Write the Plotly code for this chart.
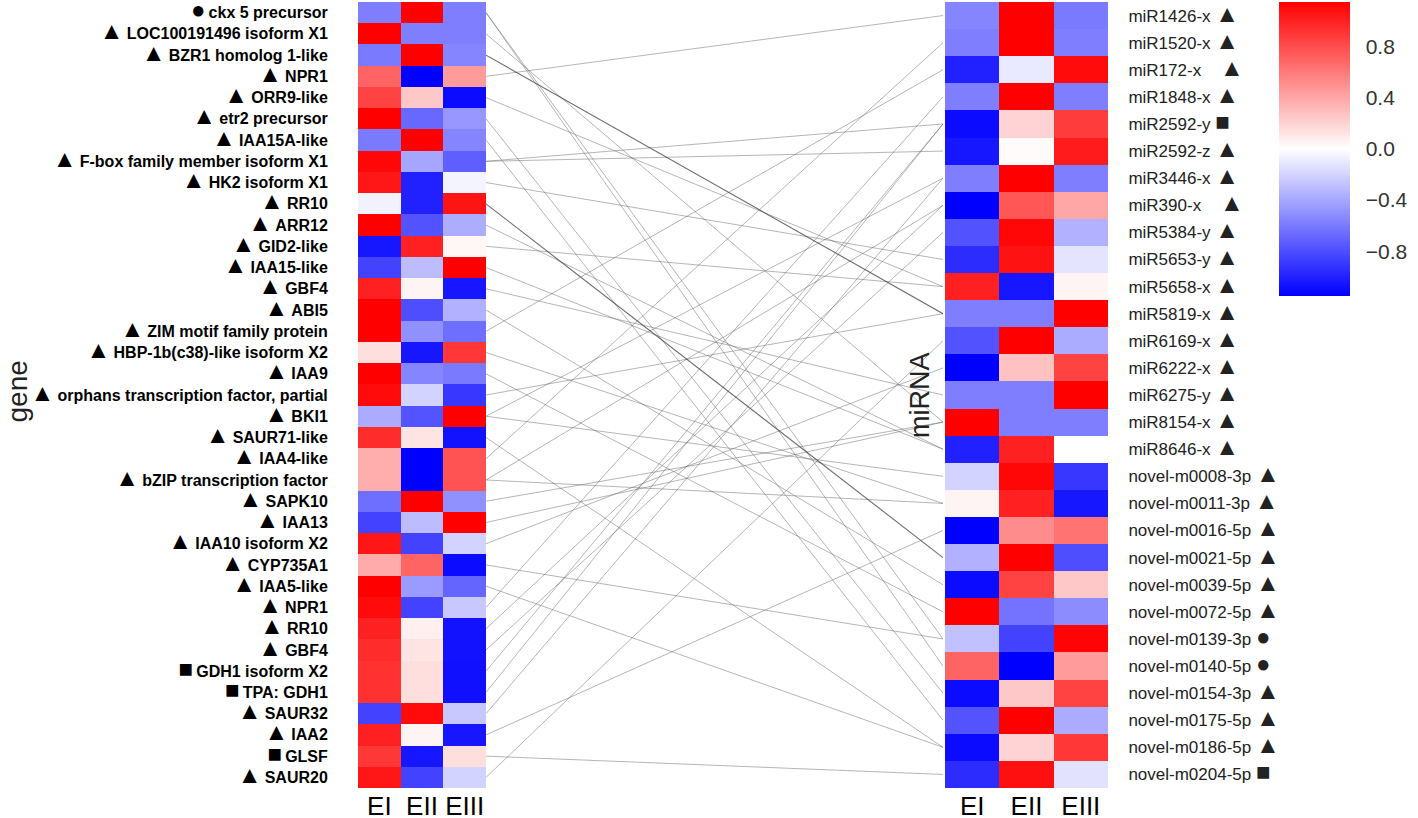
import plotly.graph_objects as go

# expression (row-scaled) for the gene heatmap
genes = ['ckx 5 precursor', 'LOC100191496 isoform X1', 'BZR1 homolog 1-like', 'NPR1', 'ORR9-like',
         'etr2 precursor', 'IAA15A-like', 'F-box family member isoform X1', 'HK2 isoform X1', 'RR10',
         'ARR12', 'GID2-like', 'IAA15-like', 'GBF4', 'ABI5', 'ZIM motif family protein',
         'HBP-1b(c38)-like isoform X2', 'IAA9', 'orphans transcription factor, partial', 'BKI1',
         'SAUR71-like', 'IAA4-like', 'bZIP transcription factor', 'SAPK10', 'IAA13', 'IAA10 isoform X2',
         'CYP735A1', 'IAA5-like', 'NPR1', 'RR10', 'GBF4', 'GDH1 isoform X2', 'TPA: GDH1', 'SAUR32',
         'IAA2', 'GLSF', 'SAUR20']
gene_marks = ['circle'] + ['triangle'] * 30 + ['square', 'square', 'triangle', 'triangle', 'square', 'triangle']
gene_EI = [-0.58, 1.15, -0.6, 0.7, 0.85, 1.15, -0.6, 1.12, 1.05, -0.06, 1.15, -1.05, -0.85, 1.0, 1.15, 1.15,
           0.15, 1.15, 1.1, -0.38, 0.95, 0.37, 0.37, -0.65, -0.85, 1.05, 0.38, 1.15, 1.1, 1.0, 0.95, 0.93,
           0.93, -0.85, 1.0, 0.9, 1.05]
gene_EII = [1.15, -0.58, 1.15, -1.15, 0.25, -0.68, 1.15, -0.4, -1.0, -1.0, -0.78, 1.0, -0.3, 0.05, -0.8, -0.5,
            -1.05, -0.55, -0.2, -0.77, 0.12, -1.15, -1.15, 1.15, -0.3, -0.85, 0.7, -0.45, -0.85, 0.07, 0.12,
            0.15, 0.15, 1.1, 0.05, -1.05, -0.85]
gene_EIII = [-0.58, -0.58, -0.55, 0.45, -1.1, -0.47, -0.55, -0.72, -0.05, 1.06, -0.37, 0.04, 1.15, -1.05, -0.35,
             -0.65, 0.9, -0.6, -0.9, 1.15, -1.07, 0.78, 0.78, -0.5, 1.15, -0.2, -1.1, -0.7, -0.25, -1.07,
             -1.07, -1.08, -1.08, -0.25, -1.05, 0.15, -0.2]

mirnas = ['miR1426-x', 'miR1520-x', 'miR172-x', 'miR1848-x', 'miR2592-y', 'miR2592-z', 'miR3446-x',
          'miR390-x', 'miR5384-y', 'miR5653-y', 'miR5658-x', 'miR5819-x', 'miR6169-x', 'miR6222-x',
          'miR6275-y', 'miR8154-x', 'miR8646-x', 'novel-m0008-3p', 'novel-m0011-3p', 'novel-m0016-5p',
          'novel-m0021-5p', 'novel-m0039-5p', 'novel-m0072-5p', 'novel-m0139-3p', 'novel-m0140-5p',
          'novel-m0154-3p', 'novel-m0175-5p', 'novel-m0186-5p', 'novel-m0204-5p']
mirna_marks = ['triangle'] * 4 + ['square'] + ['triangle'] * 18 + ['circle', 'circle'] + ['triangle'] * 3 + ['square']
mirna_EI = [-0.55, -0.58, -1.0, -0.58, -1.1, -1.05, -0.58, -1.15, -0.78, -0.95, 1.0, -0.58, -0.78, -1.15,
            -0.58, 1.15, -1.0, -0.2, 0.05, -1.15, -0.35, -1.1, 1.15, -0.28, 0.7, -1.1, -0.77, -1.1, -0.95]
mirna_EII = [1.15, 1.15, -0.1, 1.15, 0.2, 0.02, 1.15, 0.76, 1.12, 1.07, -1.05, -0.58, 1.15, 0.28, -0.58,
             -0.58, 1.0, 1.12, 1.0, 0.52, 1.15, 0.85, -0.63, -0.85, -1.15, 0.25, 1.15, 0.2, 1.08]
mirna_EIII = [-0.6, -0.58, 1.1, -0.58, 0.88, 1.03, -0.58, 0.4, -0.35, -0.12, 0.05, 1.15, -0.38, 0.85, 1.15,
              -0.58, 0.0, -0.9, -1.05, 0.63, -0.8, 0.25, -0.52, 1.13, 0.45, 0.85, -0.38, 0.9, -0.13]

# gene row -> miRNA row
link_gene = [0, 0, 1, 2, 3, 4, 5, 6, 7, 7, 8, 9, 10, 11, 12, 13, 14, 15, 16, 17, 18, 19, 19, 20, 21,
             22, 22, 23, 24, 25, 26, 27, 28, 29, 30, 31, 32, 33, 34, 35, 36]
link_mirna = [24, 23, 15, 11, 0, 10, 25, 26, 4, 5, 9, 20, 16, 10, 16, 14, 21, 2, 18, 22, 11, 17, 6, 27, 1,
              18, 7, 15, 15, 13, 23, 27, 3, 7, 8, 4, 4, 6, 19, 28, 12]
strong_links = [(2, 11), (9, 20)]

samples = ['EI', 'EII', 'EIII']
glyph = {'triangle': '▲', 'circle': '●', 'square': '■'}

W, H = 1418, 818


def px(x):
    return x / W


def py(y):
    return 1 - y / H


top, bottom = py(2), py(788)
left_dom = [px(358), px(486)]
right_dom = [px(945), px(1108)]
mid_dom = [px(486), px(943)]

gene_z = [list(r) for r in zip(gene_EI, gene_EII, gene_EIII)]
mirna_z = [list(r) for r in zip(mirna_EI, mirna_EII, mirna_EIII)]

fig = go.Figure()
fig.add_trace(go.Heatmap(z=gene_z, x=samples, y=list(range(len(genes))), coloraxis='coloraxis',
                         xaxis='x', yaxis='y', hoverinfo='skip'))
fig.add_trace(go.Heatmap(z=mirna_z, x=samples, y=list(range(len(mirnas))), coloraxis='coloraxis',
                         xaxis='x2', yaxis='y2', hoverinfo='skip'))

ng, nm = len(genes), len(mirnas)
for dark in (False, True):
    xs, ys = [], []
    for g, m in zip(link_gene, link_mirna):
        if ((g, m) in strong_links) != dark:
            continue
        xs += [0, 1, None]
        ys += [1 - (g + 0.5) / ng, 1 - (m + 0.5) / nm, None]
    fig.add_trace(go.Scatter(x=xs, y=ys, mode='lines', xaxis='x3', yaxis='y3', hoverinfo='skip',
                             line=dict(color='rgba(60,60,60,0.75)' if dark else 'rgba(90,90,90,0.45)',
                                       width=1.1 if dark else 1), showlegend=False))

gene_text = ['<span style="font-size:24px">%s</span>\u2009<b>%s</b>' % (glyph[k], n)
             for n, k in zip(genes, gene_marks)]
pad = {'miR172-x': '\u00a0\u00a0\u00a0', 'miR390-x': '\u00a0\u00a0\u00a0'}
mirna_text = ['%s %s<span style="font-size:24px">%s</span>' % (n, pad.get(n, ''), glyph[k])
              for n, k in zip(mirnas, mirna_marks)]

font = 'Liberation Sans, Arial, DejaVu Sans'
fig.update_layout(
    width=W, height=H, margin=dict(l=0, r=0, t=0, b=0, autoexpand=False),
    paper_bgcolor='white', plot_bgcolor='white', showlegend=False,
    font=dict(family=font, color='black'),
    coloraxis=dict(
        cmin=-1.15, cmax=1.15,
        colorscale=[[0, '#0000FF'], [0.5, '#FFFFFF'], [1, '#FF0000']],
        colorbar=dict(x=px(1279), xanchor='left', y=top, yanchor='top', thickness=71,
                      len=294, lenmode='pixels', xpad=0, ypad=0, outlinewidth=0,
                      tickvals=[-0.8, -0.4, 0, 0.4, 0.8], tickformat='.1f',
                      ticks='outside', ticklen=12, tickcolor='rgba(0,0,0,0)',
                      tickfont=dict(size=21, color='#333333', family=font))),
    xaxis=dict(domain=left_dom, anchor='y', showgrid=False, zeroline=False, ticks='',
               tickfont=dict(size=26, color='black'), automargin=False),
    yaxis=dict(domain=[bottom, top], anchor='x', range=[ng - 0.5, -0.5], showgrid=False, zeroline=False,
               tickvals=list(range(ng)), ticktext=gene_text, ticks='outside', ticklen=26,
               tickcolor='rgba(0,0,0,0)', tickfont=dict(size=16, color='black'), automargin=False,
               ticklabeloverflow='allow'),
    xaxis2=dict(domain=right_dom, anchor='y2', showgrid=False, zeroline=False, ticks='',
                tickfont=dict(size=26, color='black'), automargin=False),
    yaxis2=dict(domain=[bottom, top], anchor='x2', side='right', range=[nm - 0.5, -0.5], showgrid=False,
                zeroline=False, tickvals=list(range(nm)), ticktext=mirna_text, ticks='outside', ticklen=16,
                tickcolor='rgba(0,0,0,0)', tickfont=dict(size=17, color='#222222'), automargin=False,
                ticklabeloverflow='allow'),
    xaxis3=dict(domain=mid_dom, anchor='y3', range=[0, 1], visible=False),
    yaxis3=dict(domain=[bottom, top], anchor='x3', range=[0, 1], visible=False),
    annotations=[
        dict(text='gene', x=0, xanchor='left', y=py(392), xref='paper', yref='paper', textangle=-90,
             showarrow=False, borderpad=0, font=dict(size=28, color='#222222')),
        dict(text='miRNA', x=px(920), y=py(395), xref='paper', yref='paper', textangle=-90,
             showarrow=False, font=dict(size=27, color='#222222')),
    ],
)

# drop the page's default body margin so the figure fills the window exactly
fig.write_html('out.html', config={'displayModeBar': False},
               post_script="document.body.style.margin='0px';")
